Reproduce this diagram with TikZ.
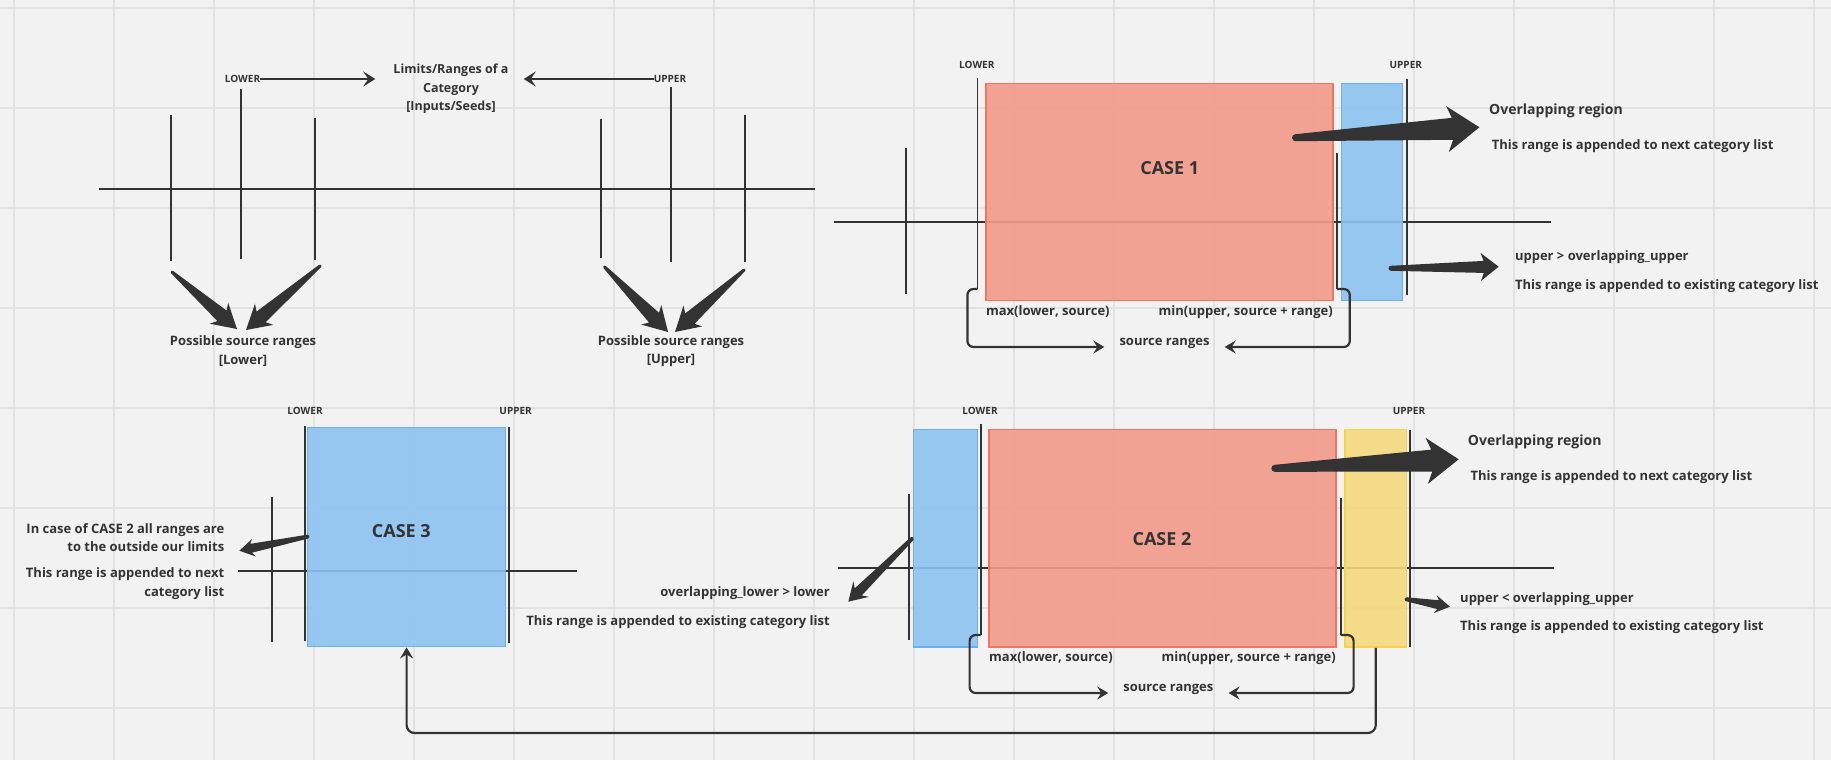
\documentclass[tikz,border=0pt]{standalone}
\usepackage{fontspec}
\setmainfont{Open Sans}
\usetikzlibrary{arrows.meta,calc,fit}
\definecolor{bg}{HTML}{F2F2F2}
\definecolor{gridc}{HTML}{E2E2E2}
\definecolor{ink}{HTML}{333333}
\definecolor{redf}{HTML}{F29A88}
\definecolor{redd}{HTML}{F2735F}
\definecolor{bluef}{HTML}{8CC3F1}
\definecolor{blued}{HTML}{6AAFEE}
\definecolor{yelf}{HTML}{F4D97C}
\definecolor{yeld}{HTML}{F6D24A}
% tapered arrow: tail, tip, tail half width, shaft half width, head half width, junction dist, barb dist
\newcommand\taper[7]{%
  \coordinate (tpJ) at ($(#2)!#6!(#1)$);
  \coordinate (tpB) at ($(#2)!#7!(#1)$);
  \fill[ink] ($(#1)!#3!90:(#2)$) -- ($(tpJ)!#4!90:(#2)$) -- ($(tpB)!#5!90:(#2)$) -- (#2)
     -- ($(tpB)!#5!-90:(#2)$) -- ($(tpJ)!#4!-90:(#2)$) -- ($(#1)!#3!-90:(#2)$) -- cycle;
  \fill[ink] (#1) circle (#3);
}
\tikzset{
  lbl/.style={font=\bfseries\fontsize{13}{18.3}\selectfont, inner sep=0pt, text=ink},
  limlbl/.style={font=\bfseries\fontsize{10}{12}\selectfont, inner sep=0pt, text=ink},
  caselbl/.style={font=\bfseries\fontsize{18}{20}\selectfont, inner sep=0pt, text=ink},
  ovlbl/.style={font=\bfseries\fontsize{14}{16}\selectfont, inner sep=0pt, text=ink},
  axisline/.style={ink, line width=2pt},
  tickline/.style={ink, line width=1.8pt},
  conn/.style={ink, line width=2.2pt, rounded corners=6pt, -{Stealth[length=11pt,width=13pt,inset=4pt]}},
  limarrow/.style={ink, line width=2.4pt, -{Stealth[length=12pt,width=15pt,inset=5pt]}},
  redbox/.style={draw=redd, fill=redf, line width=1.5pt, fill opacity=0.9, inner sep=0pt},
  bluebox/.style={draw=blued, fill=bluef, line width=1.5pt, fill opacity=0.9, inner sep=0pt},
  yelbox/.style={draw=yeld, fill=yelf, line width=1.5pt, fill opacity=0.9, inner sep=0pt},
}
\begin{document}
\begin{tikzpicture}[x=1pt,y=-1pt]
\useasboundingbox (0,0) rectangle (1831,760);
\fill[bg] (0,0) rectangle (1831,760);
\foreach \i in {0,...,18} \draw[gridc, line width=1.2pt] ({14+100*\i},0) -- ({14+100*\i},760);
\foreach \j in {0,...,7} \draw[gridc, line width=1.2pt] (0,{8+100*\j}) -- (1831,{8+100*\j});

% ---------------- top left ----------------
\draw[axisline] (99,188.5) -- (815,188.5);
\foreach \x/\a/\b in {171/115/261, 241/89/259, 315/118/260, 601/119/258, 671/87/262, 745/115/262}
  \draw[tickline] (\x,\a) -- (\x,\b);
\node[limlbl] (lowA) at (242.5,79) {LOWER};
\node[limlbl] (upA) at (670,79) {UPPER};
\node[lbl, font=\bfseries\fontsize{12.5}{18.5}\selectfont, align=center] (lim) at (451,89) {Limits/Ranges of a\\Category\\{[Inputs/Seeds]}};
\draw[limarrow, shorten >=18pt] (lowA.east) -- (lowA.east -| lim.west);
\draw[limarrow, shorten >=15pt] (upA.west) -- (upA.west -| lim.east);
\node[lbl, align=center] (psL) at (243,351) {Possible source ranges\\{[Lower]}};
\node[lbl, align=center] (psU) at (671,351) {Possible source ranges\\{[Upper]}};
\coordinate (t1a) at (172,272); \coordinate (t1b) at (237,329);
\coordinate (t2a) at (320,266); \coordinate (t2b) at (246,330);
\coordinate (t3a) at (604.6,267); \coordinate (t3b) at (668,332);
\coordinate (t4a) at (744,270); \coordinate (t4b) at (675,332);
\taper{t1a}{t1b}{1.5pt}{7pt}{14pt}{20pt}{24pt}
\taper{t2a}{t2b}{1.5pt}{7pt}{14pt}{20pt}{24pt}
\taper{t3a}{t3b}{1.5pt}{7pt}{14pt}{20pt}{24pt}
\taper{t4a}{t4b}{1.5pt}{7pt}{14pt}{20pt}{24pt}

% ---------------- CASE 1 ----------------
\draw[axisline] (834,222.3) -- (1551,222.3);
\draw[tickline] (977.4,78) -- (977.4,289);
\draw[tickline] (1407,79) -- (1407,295);
\draw[tickline] (1336.8,152.7) -- (1336.8,289);
\draw[tickline] (905.8,148) -- (905.8,294);
\node[redbox, fit={(985.8,83.3) (1332.9,300.7)}] (r1) {};
\node[bluebox, fit={(1341.3,83.3) (1402.6,300.7)}] (b1) {};
\node[limlbl] (low1) at (976.8,65) {LOWER};
\node[limlbl] (up1) at (1405.8,65) {UPPER};
\node[caselbl] (c1) at (1169.7,168.3) {CASE 1};
\node[ovlbl, anchor=west] (ov1) at (1489,111) {Overlapping region};
\node[lbl, anchor=west] (nx1) at (1491.6,146) {This range is appended to next category list};
\node[lbl, anchor=west] (ug1) at (1514.8,257.3) {upper > overlapping\_upper};
\node[lbl, anchor=west] (ex1) at (1514.8,286) {This range is appended to existing category list};
\node[lbl, anchor=west] (mx1) at (985.8,311.7) {max(lower, source)};
\node[lbl, anchor=east] (mn1) at (1332.9,312.3) {min(upper, source + range)};
\node[lbl] (sr1) at (1164.5,343.5) {source ranges};
\coordinate (h1l) at (977.4,289);
\coordinate (h1r) at (1336.8,289);
\draw[conn] (h1l) -- ++(-10,0) |- ([xshift=-15pt,yshift=-3.5pt]sr1.west);
\draw[conn] (h1r) -- ++(13,0) |- ([xshift=15pt,yshift=-3.5pt]sr1.east);
\coordinate (a1a) at (1295.5,137.7); \coordinate (a1b) at (1479.4,127.3);
\taper{a1a}{a1b}{3.5pt}{11pt}{23pt}{27pt}{32pt}
\coordinate (a2a) at (1391,268.3); \coordinate (a2b) at (1498.7,266.7);
\taper{a2a}{a2b}{2.5pt}{6pt}{14pt}{15pt}{18pt}

% ---------------- CASE 3 ----------------
\draw[axisline] (238.2,570.7) -- (576.5,570.7);
\draw[tickline] (305,426) -- (305,640.7);
\draw[tickline] (508.7,427.3) -- (508.7,642.7);
\draw[tickline] (271.6,496.7) -- (271.6,642.3);
\node[bluebox, fit={(307.6,427.3) (505.6,646.7)}] (b3) {};
\node[limlbl] (low3) at (305,410.7) {LOWER};
\node[limlbl] (up3) at (515.6,410.7) {UPPER};
\node[caselbl] (c3) at (401.3,531.3) {CASE 3};
\node[lbl, align=right, anchor=east] (n3a) at (224.5,537.9) {In case of CASE 2 all ranges are\\to the outside our limits};
\node[lbl, align=right, anchor=east] (n3b) at (224.5,583.7) {This range is appended to next\\category list};
\coordinate (a3a) at (307.3,536.7); \coordinate (a3b) at (239.3,550.7);
\taper{a3a}{a3b}{2pt}{4.5pt}{9pt}{12pt}{15pt}

% ---------------- CASE 2 ----------------
\draw[axisline] (838,568.3) -- (1554,568.3);
\draw[tickline] (980.6,424) -- (980.6,635);
\draw[tickline] (1340.6,498.3) -- (1340.6,635);
\draw[tickline] (1409.7,430) -- (1409.7,646.7);
\draw[tickline] (909,494.3) -- (909,640);
\node[bluebox, fit={(913.5,429.3) (977.4,647)}] (b2) {};
\node[redbox, fit={(989,429.3) (1336,647)}] (r2) {};
\node[yelbox, fit={(1345,429.3) (1406.5,647)}] (y2) {};
\node[limlbl] (low2) at (980,410.7) {LOWER};
\node[limlbl] (up2) at (1409,410.7) {UPPER};
\node[caselbl] (c2) at (1162,539) {CASE 2};
\node[ovlbl, anchor=west] (ov2) at (1467.7,441.7) {Overlapping region};
\node[lbl, anchor=west] (nx2) at (1470.3,477) {This range is appended to next category list};
\node[lbl, anchor=west] (ul2) at (1460,599) {upper < overlapping\_upper};
\node[lbl, anchor=west] (ex2) at (1460,627) {This range is appended to existing category list};
\node[lbl, anchor=east] (ol2) at (830,593.3) {overlapping\_lower > lower};
\node[lbl, anchor=east] (ex2b) at (830,622.3) {This range is appended to existing category list};
\node[lbl, anchor=west] (mx2) at (989,657.3) {max(lower, source)};
\node[lbl, anchor=east] (mn2) at (1336,658.3) {min(upper, source + range)};
\node[lbl] (sr2) at (1168.4,689.5) {source ranges};
\coordinate (h2l) at (980.6,635);
\coordinate (h2r) at (1340.6,635);
\draw[conn] (h2l) -- ++(-11,0) |- ([xshift=-15pt,yshift=-3.5pt]sr2.west);
\draw[conn] (h2r) -- ++(13,0) |- ([xshift=15pt,yshift=-3.5pt]sr2.east);
\coordinate (a4a) at (1274.8,468.3); \coordinate (a4b) at (1458.7,459.3);
\taper{a4a}{a4b}{3.5pt}{11pt}{23pt}{27pt}{32pt}
\coordinate (a5a) at (1406.7,599.3); \coordinate (a5b) at (1450,606.7);
\taper{a5a}{a5b}{2pt}{4.5pt}{9pt}{12pt}{15pt}
\coordinate (a6a) at (911.7,539); \coordinate (a6b) at (848.3,601.7);
\taper{a6a}{a6b}{2pt}{5pt}{11pt}{14pt}{18pt}

% long connector
\draw[conn, rounded corners=8pt] (y2.south) -- ++(0,85.3) -| (b3.south);
\end{tikzpicture}
\end{document}
